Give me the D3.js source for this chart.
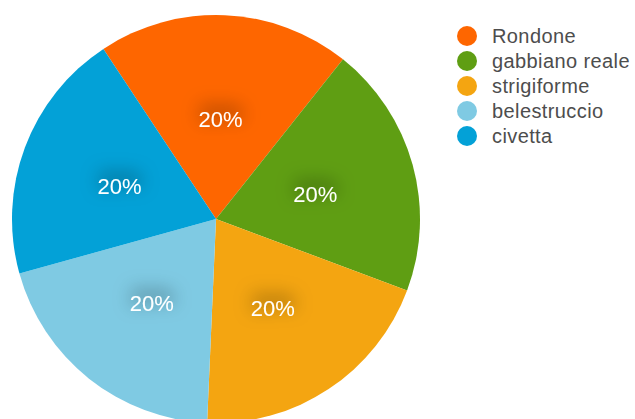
<!DOCTYPE html>
<html>
<head>
<meta charset="utf-8">
<script src="https://cdn.jsdelivr.net/npm/d3@7"></script>
<style>
  body { margin: 0; background: #fff; }
  svg { display: block; font-family: "Liberation Sans", Arial, Helvetica, sans-serif; }
</style>
</head>
<body>
<div id="chart"></div>
<script>
const categories = ["Rondone", "gabbiano reale", "strigiforme", "belestruccio", "civetta"];
const values = [20, 20, 20, 20, 20];
const colors = ["#fe6600", "#5f9e13", "#f4a511", "#7fcae3", "#03a1d7"];

const width = 635, height = 419;
const cx = 216, cy = 219, radius = 204;

const svg = d3.select("#chart").append("svg")
    .attr("width", width)
    .attr("height", height);

/* blurred dark halo behind the percentage labels */
const filter = svg.append("defs").append("filter")
    .attr("id", "halo")
    .attr("x", "-100%").attr("y", "-200%")
    .attr("width", "300%").attr("height", "500%");
filter.append("feGaussianBlur")
    .attr("in", "SourceAlpha")
    .attr("stdDeviation", 9)
    .attr("result", "blur");
filter.append("feOffset")
    .attr("in", "blur")
    .attr("dy", -7)
    .attr("result", "off");
filter.append("feFlood").attr("flood-color", "#000").attr("flood-opacity", 0.7);
filter.append("feComposite").attr("in2", "off").attr("operator", "in").attr("result", "shadow");
const merge = filter.append("feMerge");
merge.append("feMergeNode").attr("in", "shadow");
merge.append("feMergeNode").attr("in", "SourceGraphic");

const color = d3.scaleOrdinal().domain(categories).range(colors);
const total = d3.sum(values);

const pie = d3.pie()
    .sort(null)
    .startAngle(-33.5 * Math.PI / 180)
    .endAngle((360 - 33.5) * Math.PI / 180);
const arcs = pie(values);

const arc = d3.arc().innerRadius(0).outerRadius(radius);
const labelArc = d3.arc().innerRadius(103).outerRadius(103);

const g = svg.append("g").attr("transform", `translate(${cx},${cy})`);

g.selectAll("path.slice").data(arcs).enter()
    .append("path")
    .attr("class", "slice")
    .attr("d", arc)
    .attr("fill", (d, i) => color(categories[i]));

g.selectAll("text.pct").data(arcs).enter()
    .append("text")
    .attr("class", "pct")
    .attr("transform", d => `translate(${labelArc.centroid(d)})`)
    .attr("text-anchor", "middle")
    .attr("dy", "0.5em")
    .attr("fill", "#fff")
    .attr("font-size", 22)
    .attr("filter", "url(#halo)")
    .text(d => Math.round(d.value / total * 100) + "%");

/* legend */
const legend = svg.append("g").attr("transform", "translate(467,36)");
const item = legend.selectAll("g").data(categories).enter()
    .append("g")
    .attr("transform", (d, i) => `translate(0,${i * 25})`);
item.append("circle")
    .attr("r", 10)
    .attr("fill", d => color(d));
item.append("text")
    .attr("x", 25)
    .attr("dy", "0.35em")
    .attr("fill", "#4d4d4d")
    .attr("font-size", 20)
    .attr("letter-spacing", 0.4)
    .text(d => d);
</script>
</body>
</html>
